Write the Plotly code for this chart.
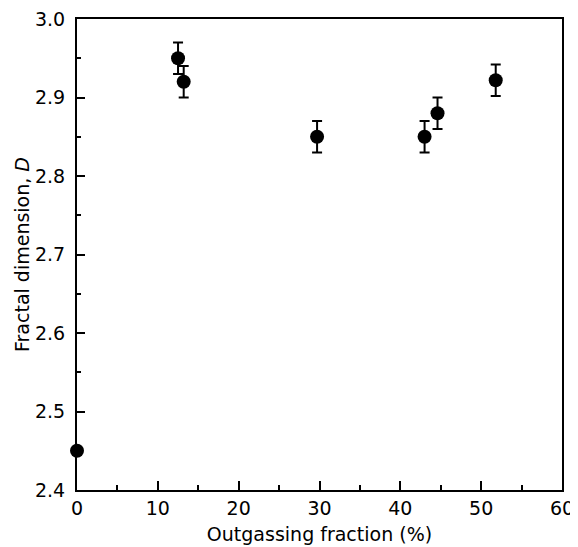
import plotly.graph_objects as go

outgassing = [0, 12.5, 13.2, 29.7, 43.0, 44.6, 51.8]
fractal_d = [2.45, 2.95, 2.92, 2.85, 2.85, 2.88, 2.922]
d_error = [0, 0.02, 0.02, 0.02, 0.02, 0.02, 0.02]

x_ticks = [0, 10, 20, 30, 40, 50, 60]
y_ticks = [2.4, 2.5, 2.6, 2.7, 2.8, 2.9, 3.0]

fig = go.Figure()
fig.add_trace(go.Scatter(
    x=outgassing, y=fractal_d, mode="markers",
    marker=dict(color="black", size=14),
    error_y=dict(type="data", array=d_error, visible=True, color="black",
                 thickness=2, width=5),
    cliponaxis=False, showlegend=False,
))

font = dict(family="DejaVu Sans, Verdana, sans-serif", size=19, color="black")
# page has an 8px body margin, so the figure is shrunk to fit the window
fig.update_layout(
    width=570, height=539,
    margin=dict(l=69, r=16, t=11, b=57),
    paper_bgcolor="white", plot_bgcolor="white",
    font=font,
    xaxis=dict(
        range=[0, 60], tickvals=x_ticks, ticktext=[str(v) for v in x_ticks],
        ticks="inside", ticklen=9, tickwidth=2, tickcolor="black",
        minor=dict(dtick=5, tick0=0, ticks="inside", ticklen=5, tickwidth=2, tickcolor="black"),
        showline=True, linecolor="black", linewidth=2, mirror=True,
        showgrid=False, zeroline=False, automargin=False,
        ticklabelstandoff=0, ticklabeloverflow="allow",
        title=dict(text="Outgassing fraction (%)", standoff=10, font=font),
    ),
    yaxis=dict(
        range=[2.4, 3.0], tickvals=y_ticks, ticktext=[f"{v:.1f}" for v in y_ticks],
        ticks="inside", ticklen=8, tickwidth=2, tickcolor="black",
        minor=dict(dtick=0.05, tick0=2.4, ticks="inside", ticklen=4, tickwidth=2, tickcolor="black"),
        showline=True, linecolor="black", linewidth=2, mirror=True,
        showgrid=False, zeroline=False, automargin=False,
        ticklabelstandoff=6, ticklabeloverflow="allow",
        title=dict(text="Fractal dimension, <i>D</i>", standoff=0, font=font),
    ),
)
fig.write_html("out.html")
